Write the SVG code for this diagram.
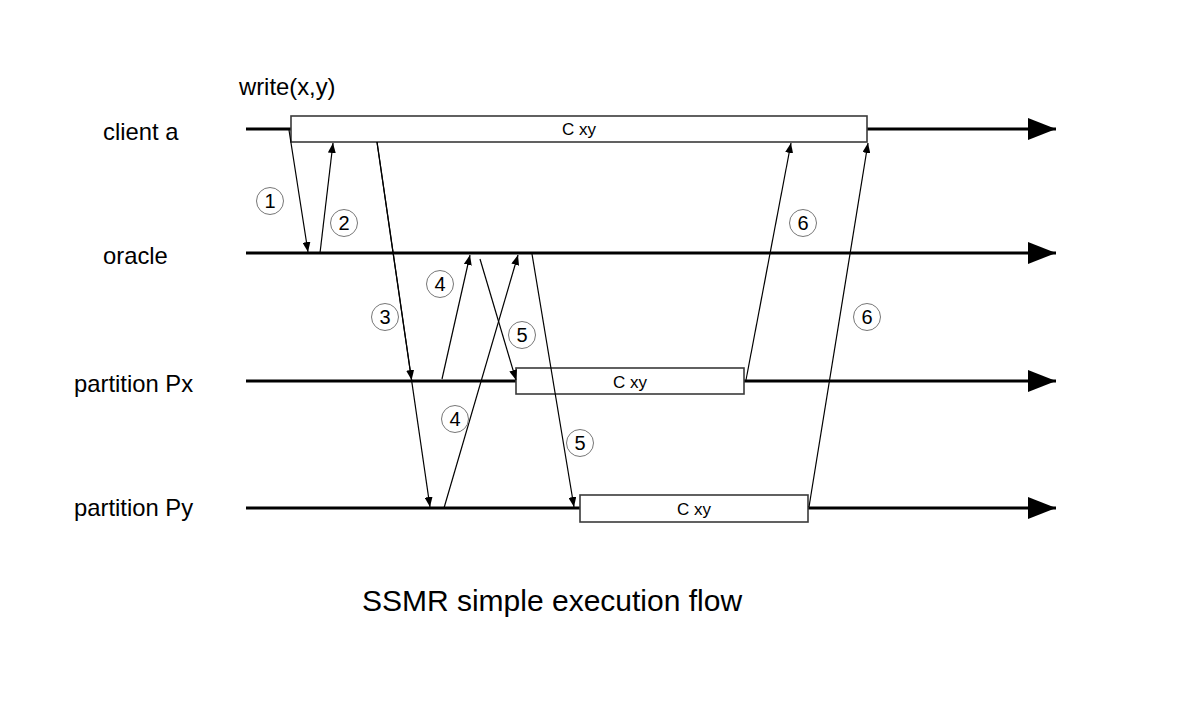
<svg xmlns="http://www.w3.org/2000/svg" width="1182" height="702" viewBox="0 0 1182 702">
<style>
.lbl{font-family:"Liberation Sans",Arial,sans-serif;font-size:23.8px;fill:#000}
.box{fill:#fff;stroke:#3a3a3a;stroke-width:1.6}
.bt{font-family:"Liberation Sans",Arial,sans-serif;font-size:17px;fill:#000;text-anchor:middle}
.tl{stroke:#000;stroke-width:3;fill:none}
.msg{stroke:#000;stroke-width:1.2;fill:none;marker-end:url(#ah)}
.num circle{fill:#fff;stroke:#777;stroke-width:1}
.num text{font-family:"Liberation Sans",Arial,sans-serif;font-size:20px;fill:#000;text-anchor:middle}
</style>
<defs>
<marker id="ah" viewBox="0 0 10 8" refX="10" refY="4" markerWidth="10" markerHeight="8" markerUnits="userSpaceOnUse" orient="auto">
<path d="M0,0 L10,4 L0,8 z" fill="#000"/>
</marker>
<marker id="big" viewBox="0 0 28 22" refX="28" refY="11" markerWidth="28" markerHeight="22" markerUnits="userSpaceOnUse" orient="auto">
<path d="M0,0 L28,11 L0,22 z" fill="#000"/>
</marker>
</defs>
<rect width="1182" height="702" fill="#fff"/>
<g id="timelines">
<line class="tl" x1="246" y1="129" x2="1056" y2="129" marker-end="url(#big)"/>
<line class="tl" x1="246" y1="253" x2="1056" y2="253" marker-end="url(#big)"/>
<line class="tl" x1="246" y1="381" x2="1056" y2="381" marker-end="url(#big)"/>
<line class="tl" x1="246" y1="508" x2="1056" y2="508" marker-end="url(#big)"/>
</g>
<g id="labels">
<text class="lbl" x="103" y="140">client a</text>
<text class="lbl" x="103" y="264">oracle</text>
<text class="lbl" x="74" y="392">partition Px</text>
<text class="lbl" x="74" y="516">partition Py</text>
<text class="lbl" x="239" y="95">write(x,y)</text>
</g>
<g id="client-box">
<rect class="box" x="291" y="116" width="576" height="26"/>
<text class="bt" x="579" y="135">C xy</text>
</g>
<g id="px-box">
<rect class="box" x="516" y="368" width="228" height="26"/>
<text class="bt" x="630" y="388">C xy</text>
</g>
<g id="py-box">
<rect class="box" x="580" y="495" width="228" height="27"/>
<text class="bt" x="694" y="515">C xy</text>
</g>
<g id="connectors">
<line class="msg" x1="289" y1="130" x2="308" y2="252"/>
<line class="msg" x1="320" y1="253" x2="333" y2="143"/>
<line class="msg" x1="377" y1="142" x2="411.6" y2="380"/>
<line class="msg" x1="377" y1="142" x2="430" y2="507"/>
<line class="msg" x1="442" y1="379" x2="470" y2="255"/>
<line class="msg" x1="444" y1="508" x2="518" y2="255"/>
<line class="msg" x1="480" y1="259" x2="516" y2="380"/>
<line class="msg" x1="532" y1="254" x2="574" y2="507"/>
<line class="msg" x1="746" y1="380" x2="791" y2="143"/>
<line class="msg" x1="809" y1="507" x2="868" y2="143"/>
</g>
<g id="numbers" class="num">
<g id="n1"><circle cx="270" cy="201" r="13.5"/><text x="270" y="208">1</text></g>
<g id="n2"><circle cx="344" cy="223" r="13.5"/><text x="344" y="230">2</text></g>
<g id="n3"><circle cx="385" cy="317" r="13.5"/><text x="385" y="324">3</text></g>
<g id="n4a"><circle cx="440" cy="284" r="13.5"/><text x="440" y="291">4</text></g>
<g id="n5a"><circle cx="522" cy="335" r="13.5"/><text x="522" y="342">5</text></g>
<g id="n4b"><circle cx="455" cy="419" r="13.5"/><text x="455" y="426">4</text></g>
<g id="n5b"><circle cx="580" cy="443" r="13.5"/><text x="580" y="450">5</text></g>
<g id="n6a"><circle cx="803" cy="223" r="13.5"/><text x="803" y="230">6</text></g>
<g id="n6b"><circle cx="867" cy="317" r="13.5"/><text x="867" y="324">6</text></g>
</g>
<text id="title" x="552" y="611" style="font-family:'Liberation Sans',Arial,sans-serif;font-size:30px;text-anchor:middle;fill:#000">SSMR simple execution flow</text>
</svg>
